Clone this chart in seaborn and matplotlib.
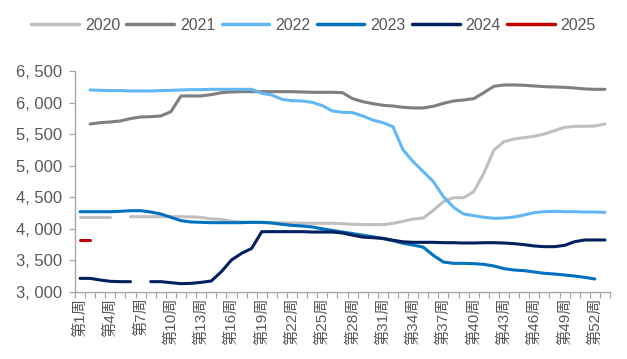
import numpy as np
import pandas as pd
import matplotlib
matplotlib.use("Agg")
import matplotlib.pyplot as plt
import seaborn as sns
from matplotlib.ticker import FixedLocator, FuncFormatter

nan = np.nan

# Weekly values, index 0 = week 1 ... index 52 = week 53
weeks = list(range(1, 54))
years = ["2020", "2021", "2022", "2023", "2024", "2025"]

v2020 = [4193, 4193, 4193, 4193, nan, 4193, 4193, 4193, 4193, 4193,
         4193, 4190, 4183, 4156, 4151, 4120, 4109, 4104, 4098, 4098,
         4093, 4093, 4088, 4088, 4088, 4088, 4082, 4072, 4067, 4067,
         4067, 4088, 4120, 4156, 4172, 4294, 4431, 4494, 4494, 4589,
         4880, 5249, 5381, 5424, 5445, 5466, 5503, 5556, 5608, 5624,
         5624, 5629, 5661]
v2021 = [nan, 5661, 5682, 5693, 5709, 5746, 5772, 5777, 5788, 5856,
         6105, 6105, 6105, 6126, 6157, 6168, 6173, 6173, 6173, 6173,
         6173, 6173, 6168, 6163, 6163, 6163, 6157, 6062, 6015, 5983,
         5957, 5946, 5925, 5915, 5915, 5941, 5988, 6025, 6041, 6062,
         6157, 6258, 6279, 6279, 6274, 6263, 6252, 6247, 6242, 6231,
         6216, 6210, 6210]
v2022 = [nan, 6200, 6194, 6190, 6190, 6184, 6184, 6184, 6190, 6194,
         6200, 6205, 6205, 6210, 6210, 6210, 6210, 6210, 6147, 6120,
         6052, 6030, 6025, 6004, 5952, 5867, 5846, 5841, 5788, 5724,
         5682, 5619, 5250, 5064, 4906, 4748, 4510, 4341, 4236, 4209,
         4183, 4167, 4172, 4188, 4220, 4257, 4272, 4278, 4272, 4272,
         4267, 4267, 4262]
v2023 = [4272, 4272, 4272, 4272, 4278, 4288, 4288, 4267, 4236, 4183,
         4130, 4109, 4104, 4098, 4098, 4098, 4098, 4104, 4104, 4093,
         4072, 4056, 4045, 4030, 4000, 3975, 3950, 3925, 3900, 3875,
         3845, 3813, 3771, 3744, 3710, 3580, 3475, 3454, 3454, 3449,
         3438, 3412, 3370, 3348, 3338, 3317, 3296, 3285, 3269, 3253,
         3232, 3206, nan]
v2024 = [3216, 3216, 3190, 3169, 3164, 3164, nan, 3164, 3164, 3148,
         3132, 3137, 3153, 3174, 3322, 3507, 3612, 3690, 3955, 3956,
         3956, 3956, 3956, 3950, 3950, 3950, 3935, 3900, 3870, 3860,
         3850, 3820, 3795, 3787, 3787, 3787, 3781, 3781, 3776, 3776,
         3781, 3781, 3776, 3766, 3750, 3729, 3718, 3718, 3739, 3797,
         3824, 3824, 3824]
v2025 = [3830, 3830] + [nan] * 51

series = {"2020": v2020, "2021": v2021, "2022": v2022,
          "2023": v2023, "2024": v2024, "2025": v2025}
colors = {"2020": "#BFBFBF", "2021": "#7F7F7F", "2022": "#63B7F4",
          "2023": "#0070C0", "2024": "#002060", "2025": "#C00000"}

# Long table; a new segment starts after every missing week so gaps stay open
rows = []
for yr in years:
    seg = 0
    for i, v in enumerate(series[yr]):
        if np.isnan(v):
            seg += 1
            continue
        rows.append((i, v, yr, f"{yr}-{seg}"))
df = pd.DataFrame(rows, columns=["pos", "value", "year", "seg"])

sns.set_theme(style="white")
plt.rcParams["font.family"] = ["Liberation Sans", "Noto Sans CJK SC"]

fig = plt.figure(figsize=(6.27, 3.59), dpi=100)
ax = fig.add_axes([0.1196, 0.1866, 0.8533, 0.6156])

sns.lineplot(data=df, x="pos", y="value", hue="year", hue_order=years,
             units="seg", estimator=None, palette=colors, linewidth=2.2,
             ax=ax)

grey = "#A6A6A6"
text_col = "#595959"

ax.set_xlim(-0.5, 52.5)
ax.set_ylim(3000, 6500)
ax.set_xlabel("")
ax.set_ylabel("")

label_pos = list(range(0, 53, 3))
ax.xaxis.set_major_locator(FixedLocator(label_pos))
ax.set_xticklabels([f"第{weeks[p]}周" for p in label_pos], rotation=90,
                   fontsize=11, color=text_col)
ax.xaxis.set_minor_locator(FixedLocator(np.arange(-0.5, 53, 1)))
ax.tick_params(axis="x", which="major", length=0, pad=4)
ax.tick_params(axis="x", which="minor", length=4, width=0.9, color=grey,
               direction="out", bottom=True)

ax.yaxis.set_major_locator(FixedLocator(np.arange(3000, 6501, 500)))
ax.yaxis.set_major_formatter(
    FuncFormatter(lambda v, _: f"{int(v):,}".replace(",", ", ")))
ax.tick_params(axis="y", which="major", length=4, width=0.9, color=grey,
               direction="out", left=True, pad=5, labelsize=12,
               labelcolor=text_col)

for side in ("top", "right"):
    ax.spines[side].set_visible(False)
for side in ("left", "bottom"):
    ax.spines[side].set_color(grey)
    ax.spines[side].set_linewidth(1.0)

sns.move_legend(ax, "center", bbox_to_anchor=(0.5, 0.93),
                bbox_transform=fig.transFigure, ncol=6, frameon=False,
                title=None, fontsize=11.5, handlelength=3.0,
                handletextpad=0.35, columnspacing=0.4, borderpad=0.1)
leg = ax.get_legend()
for line in leg.get_lines():
    line.set_linewidth(2.5)
for t in leg.get_texts():
    t.set_color(text_col)

fig.savefig("out.png", dpi=100)
